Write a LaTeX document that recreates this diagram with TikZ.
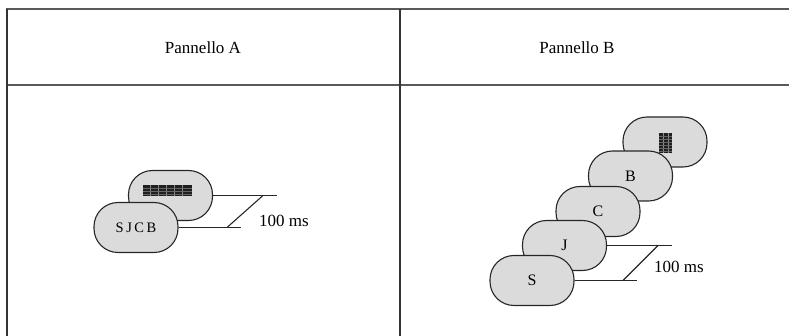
\documentclass[tikz,border=0pt]{standalone}
\usepackage{fontspec}
\setmainfont{Liberation Serif}
\begin{document}
\begin{tikzpicture}[x=1pt,y=-1pt,
  card/.style={draw=black!85, fill=black!14, line width=1.1pt, rounded corners=24pt,
    minimum width=84pt, minimum height=50pt, inner sep=0pt, font=\fontsize{16}{18}\selectfont},
  hdr/.style={font=\fontsize{17}{20}\selectfont},
  tick/.style={draw=black!85, line width=1.1pt},
  ms/.style={font=\fontsize{17}{20}\selectfont, anchor=west, inner sep=0pt},
  hrule/.style={draw=black!65, line width=2pt},
  vrule/.style={draw=black!80, line width=1.4pt},
  maskfill/.style={fill=black!88},
  maskv/.style={draw=black!45, line width=0.8pt},
  maskh/.style={draw=black!60, line width=0.4pt}]
\useasboundingbox (0,0) rectangle (789,336);
% table
\draw[hrule] (6,9) -- (789,9);
\draw[hrule] (6,85) -- (789,85);
\draw[vrule] (7,9) -- (7,336);
\draw[vrule] (400,9) -- (400,336);
\node[hdr] (ha) at (203,48) {Pannello A};
\node[hdr] (hb) at (577,48) {Pannello B};
% panel A
\node[card] (a2) at (170.5,195.5) {};
\fill[maskfill] (143,185) rectangle (192,196);
\foreach \x in {150,158,166,174,182} \draw[maskv] (\x,185) -- (\x,196);
\foreach \y in {188,191,194} \draw[maskh] (143,\y) -- (192,\y);
\node[card] (a1) at (136,227.5) {\fontsize{14.5}{16}\selectfont S\hspace{2.5pt}J\hspace{2.5pt}C\hspace{2.5pt}B};
\coordinate (a2e) at (277,195.5);
\coordinate (a1e) at (241,227.5);
\coordinate (da1) at (227,227.5);
\coordinate (da2) at (263,195.5);
\draw[tick] (a2.east) -- (a2e);
\draw[tick] (a1.east) -- (a1e);
\draw[tick] (da1) -- (da2);
\node[ms] (ta) at (259,221) {100 ms};
% panel B
\node[card] (bm) at (665,142) {};
\fill[maskfill] (659,133) rectangle (672,153);
\foreach \x in {663,668} \draw[maskv] (\x,133) -- (\x,153);
\foreach \y in {136,139,142,145,148,151} \draw[maskh] (659,\y) -- (672,\y);
\node[card] (bb) at (630.5,176) {B};
\node[card] (bc) at (598,211.5) {C};
\node[card] (bj) at (564.5,245.5) {J};
\node[card] (bs) at (532,280.5) {S};
\coordinate (bje) at (672,245.5);
\coordinate (bse) at (637,280.5);
\coordinate (db1) at (623,280.5);
\coordinate (db2) at (658,245.5);
\draw[tick] (bj.east) -- (bje);
\draw[tick] (bs.east) -- (bse);
\draw[tick] (db1) -- (db2);
\node[ms] (tb) at (654,267) {100 ms};
\end{tikzpicture}
\end{document}
